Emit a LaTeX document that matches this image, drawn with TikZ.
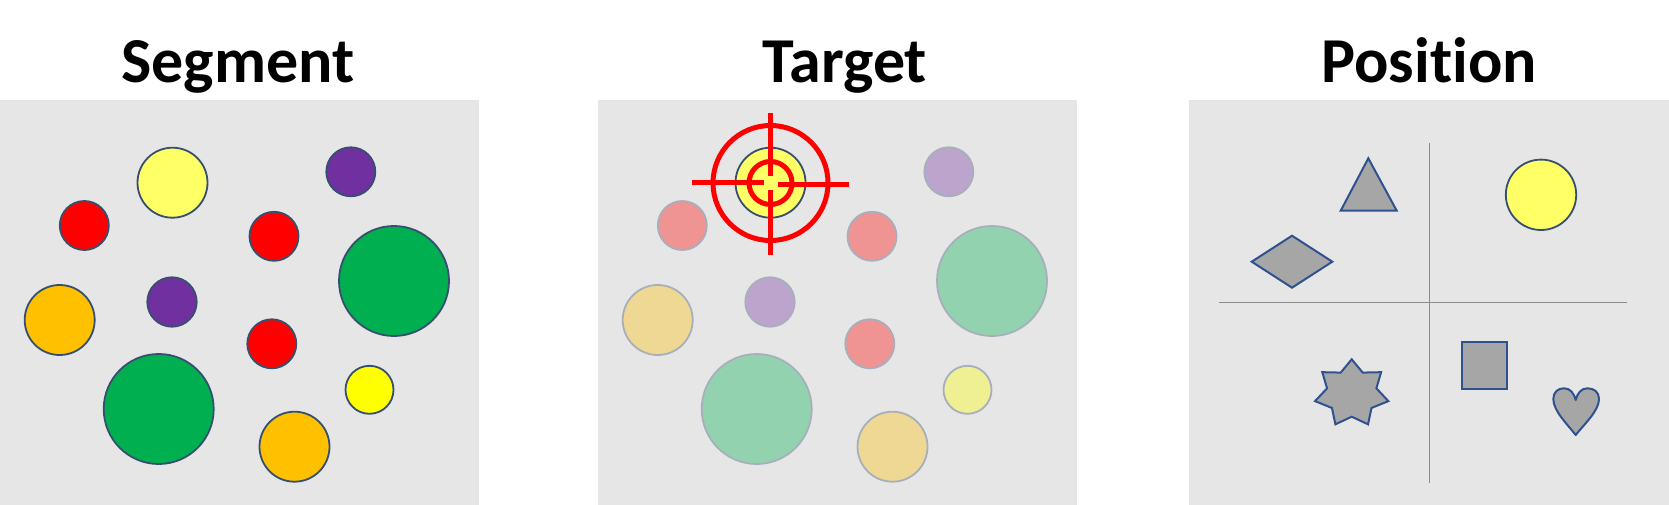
\documentclass[tikz,border=0pt]{standalone}
\usepackage{fontspec}
\setmainfont{Carlito}[Ligatures=NoCommon]
\definecolor{panelgray}{HTML}{E7E6E6}
\definecolor{cyl}{HTML}{FFFF66}
\definecolor{cred}{HTML}{FF0000}
\definecolor{cpurple}{HTML}{7030A0}
\definecolor{cgreen}{HTML}{00B050}
\definecolor{corange}{HTML}{FFC000}
\definecolor{cyellow}{HTML}{FFFF00}
\definecolor{outl}{HTML}{35506F}
\definecolor{shapeout}{HTML}{2F528F}
\definecolor{shapefill}{HTML}{A6A6A6}
\definecolor{axisgray}{HTML}{8C8C8C}
\tikzset{
  panel/.style={fill=panelgray, draw=none},
  dot/.style={draw=outl, line width=1.8pt},
  title/.style={anchor=base, inner sep=0pt, font=\fontsize{64}{70}\selectfont\bfseries},
  ring/.style={draw=cred, line width=5pt},
  crossline/.style={draw=cred, line width=5pt},
  axisline/.style={draw=axisgray, line width=1.3pt},
  gshape/.style={fill=shapefill, draw=shapeout, line width=2pt, line join=miter}
}
\begin{document}
\begin{tikzpicture}[x=1pt,y=-1pt]
\useasboundingbox (0,0) rectangle (1669,505);
\fill[white] (0,0) rectangle (1669,505);
% titles
\node[title] (tseg) at (238,83) {Segment};
\node[title] (ttar) at (845,83) {Target};
\node[title] (tpos) at (1429,83) {Position};
% panels
\fill[panel] (0,100) rectangle (479,505);
\fill[panel] (598,100) rectangle (1077,505);
\fill[panel] (1189,100) rectangle (1669,505);
% panel 1 circles
\foreach \x/\y/\r/\c in {172.5/182.7/35/cyl, 84.3/225.5/24.5/cred, 350.8/171.8/24.5/cpurple,
  274/236.3/24.5/cred, 394/281/55/cgreen, 172/302/24.7/cpurple, 59.7/320/35/corange,
  271.8/343.8/24.5/cred, 158.7/409/55/cgreen, 369.5/389.8/24/cyellow, 294.5/446.7/35/corange}
  {\filldraw[dot, fill=\c] (\x,\y) circle[radius=\r pt];}
% panel 2 faded circles
\begin{scope}[xshift=598pt]
\foreach \x/\y/\r/\c in {84.3/225.5/24.5/cred, 350.8/171.8/24.5/cpurple,
  274/236.3/24.5/cred, 394/281/55/cgreen, 172/302/24.7/cpurple, 59.7/320/35/corange,
  271.8/343.8/24.5/cred, 158.7/409/55/cgreen, 369.5/389.8/24/cyellow, 294.5/446.7/35/corange}
  {\begin{scope}[transparency group, opacity=0.36]
   \filldraw[dot, fill=\c] (\x,\y) circle[radius=\r pt];
   \end{scope}}
\filldraw[dot, fill=cyl] (172.5,182.7) circle[radius=35pt];
\end{scope}
% reticle
\coordinate (rc) at (770.5,183);
\draw[ring] (rc) circle[radius=57.5pt];
\draw[ring] (rc) circle[radius=21.5pt];
\coordinate (vt) at (770.5,113);
\coordinate (vti) at (770.5,176);
\coordinate (vbi) at (770.5,190);
\coordinate (vb) at (770.5,255);
\coordinate (hl) at (692,183);
\coordinate (hli) at (763.5,183);
\coordinate (hri) at (777.5,184.5);
\coordinate (hr) at (849,184.5);
\draw[crossline] (vt) -- (vti);
\draw[crossline] (vbi) -- (vb);
\draw[crossline] (hl) -- (hli);
\draw[crossline] (hri) -- (hr);
% panel 3 axes
\coordinate (at) at (1429.3,143.3);
\coordinate (ab) at (1429.3,483.3);
\coordinate (al) at (1219,302.3);
\coordinate (ar) at (1627.3,302.3);
\draw[axisline] (at) -- (ab);
\draw[axisline] (al) -- (ar);
% shapes
\filldraw[gshape] (1368.3,158.3) -- (1396.7,210.7) -- (1340.7,210.7) -- cycle;
\filldraw[gshape] (1251.7,261.7) -- (1292,235.7) -- (1332.3,261.7) -- (1292,287.7) -- cycle;
\filldraw[dot, fill=cyl] (1541,194.8) circle[radius=35.2pt];
\filldraw[gshape] (1462.3,341.7) rectangle (1506.7,389.3);
% star
\filldraw[gshape] plot[samples at={0,...,13}, variable=\k]
  ({1351.7 + (mod(\k,2)==0 ? 37.6 : 25.3)*sin(\k*180/7)},
   {393.5 - (mod(\k,2)==0 ? 34.2 : 23.2)*cos(\k*180/7)}) -- cycle;
% heart
\filldraw[gshape, line join=round] (1575.7,435)
  .. controls (1568,425) and (1553.3,411) .. (1553.3,399)
  .. controls (1553.3,392) and (1558,388.3) .. (1564,388.3)
  .. controls (1570,388.3) and (1574,393) .. (1575.7,400)
  .. controls (1577.4,393) and (1581.4,388.3) .. (1587.4,388.3)
  .. controls (1594,388.3) and (1599,392) .. (1599,399)
  .. controls (1599,411) and (1583.4,425) .. (1575.7,435) -- cycle;
\end{tikzpicture}
\end{document}
